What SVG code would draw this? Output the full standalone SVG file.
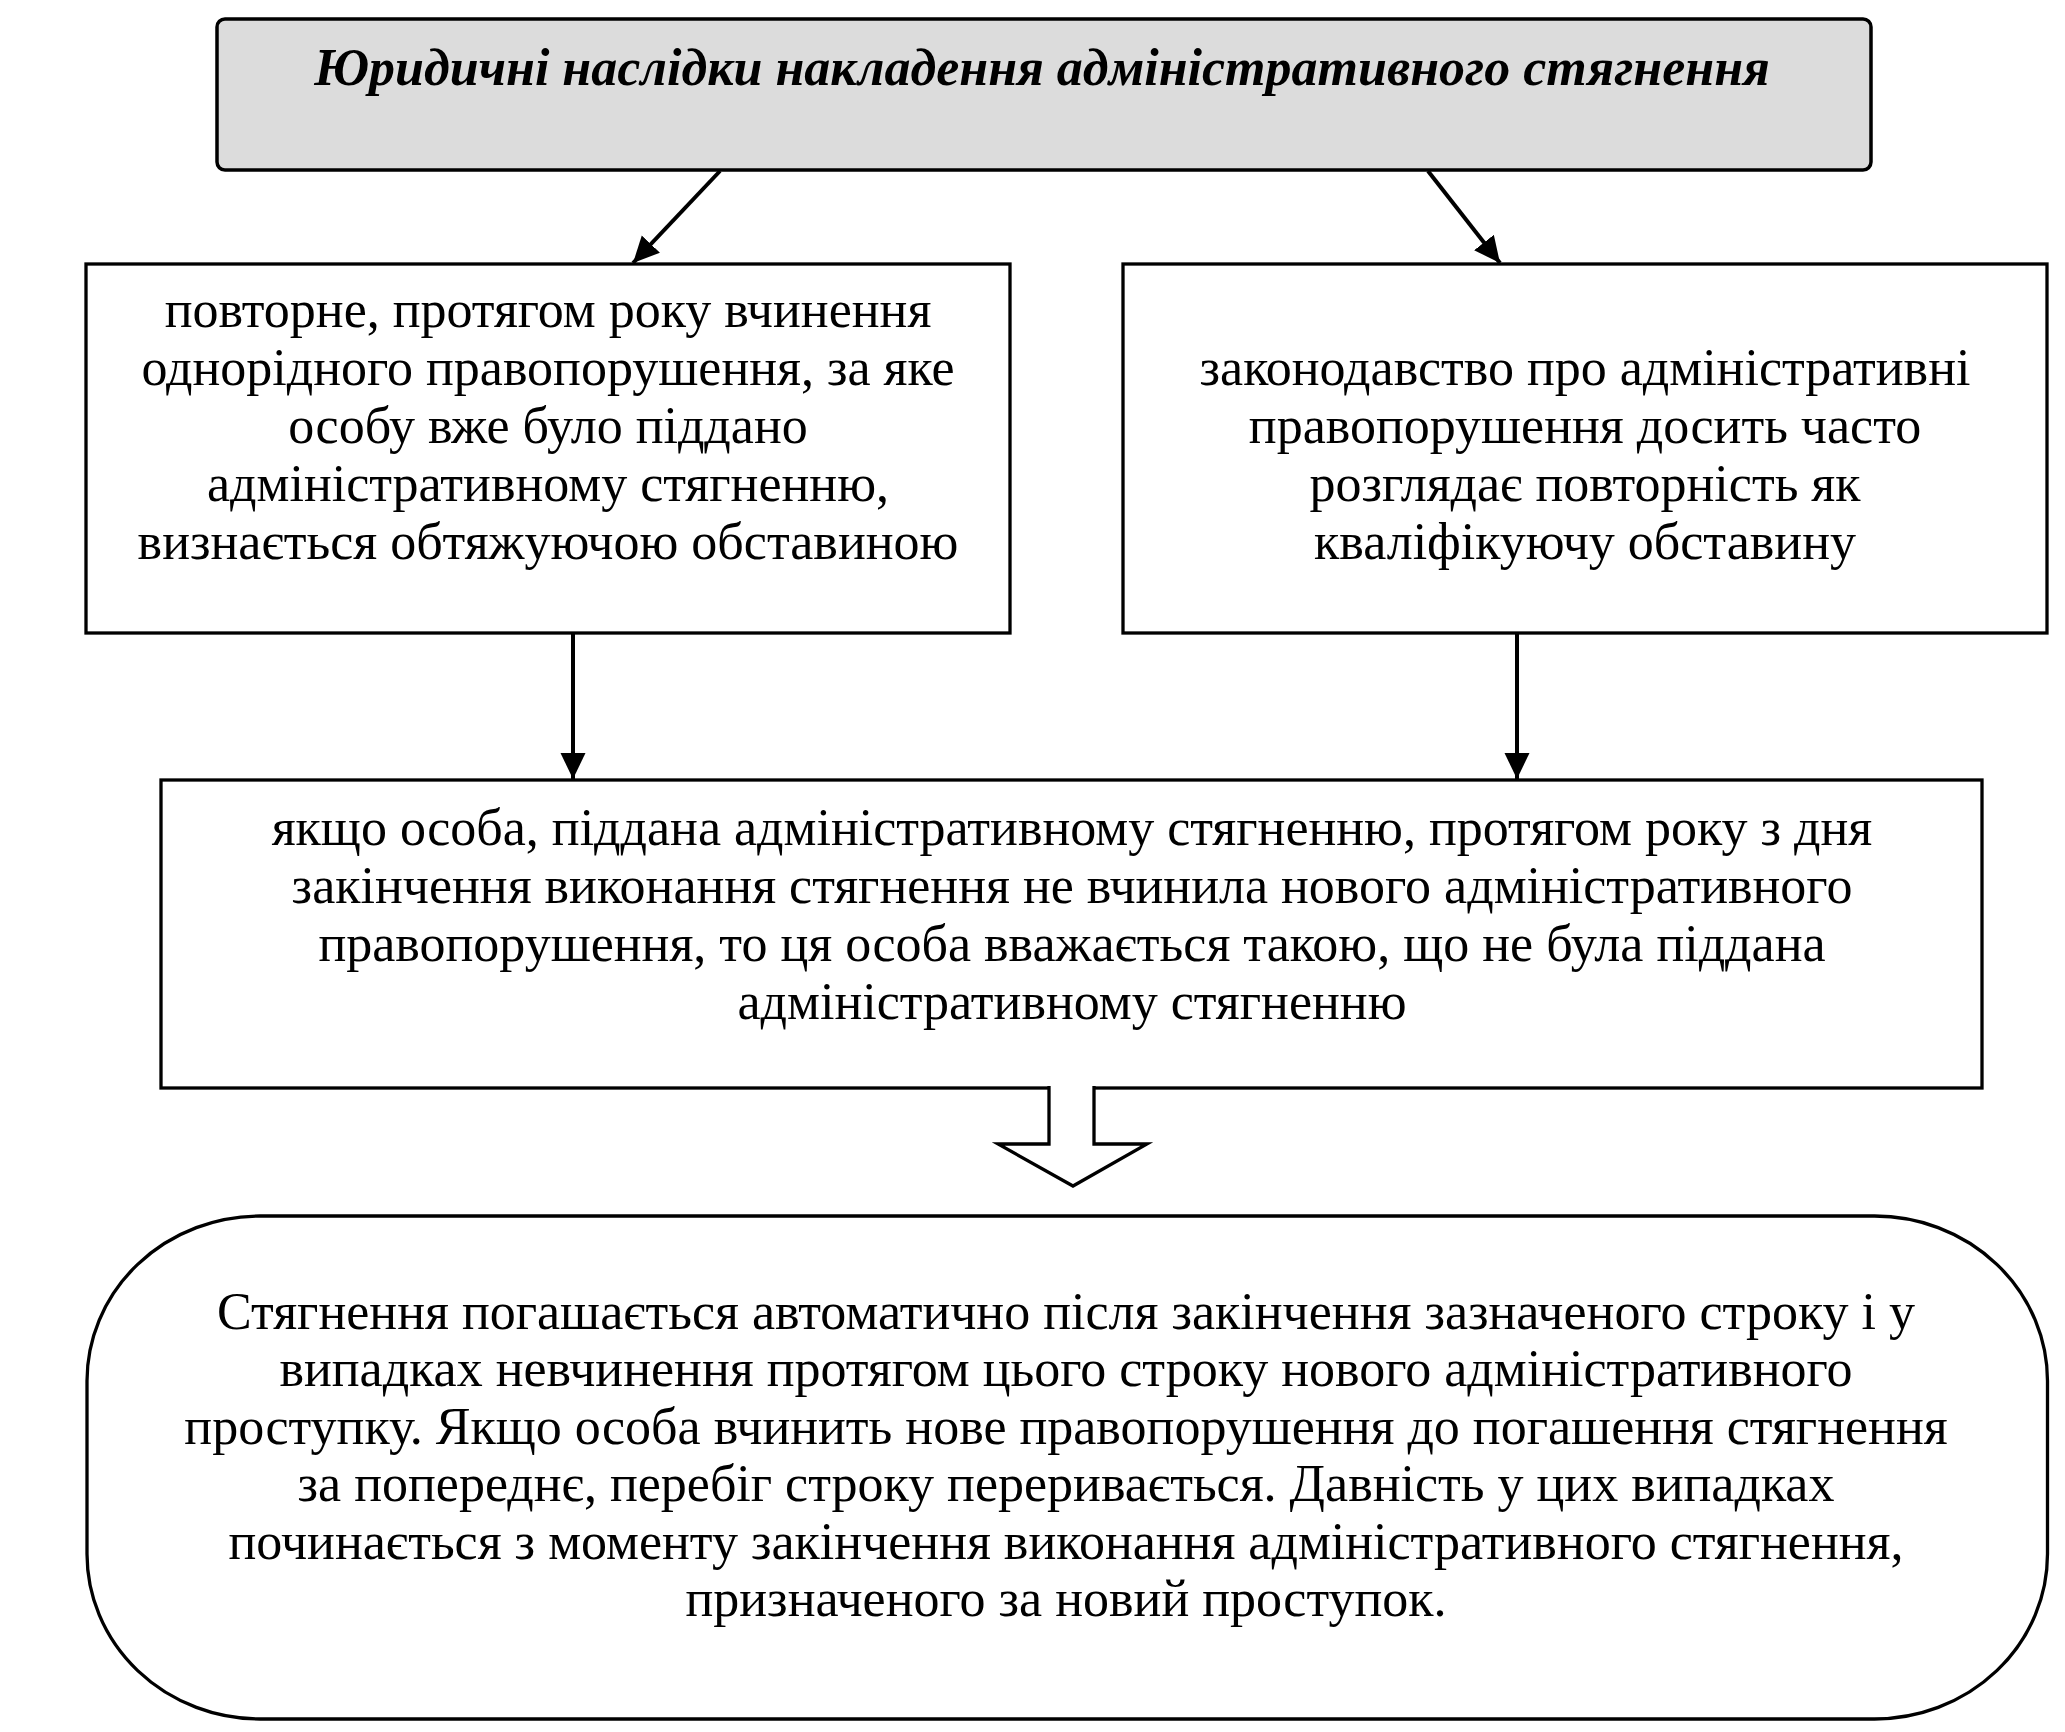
<svg xmlns="http://www.w3.org/2000/svg" width="2065" height="1732" viewBox="0 0 2065 1732">
<style>
.box{fill:#ffffff;stroke:#000000;stroke-width:3.3}
.title{fill:#dcdcdc;stroke:#000000;stroke-width:3.5}
.t{font-family:"Liberation Serif","Times New Roman",serif;font-size:52px;fill:#000000;text-anchor:middle}
.tt{font-family:"Liberation Serif","Times New Roman",serif;font-size:52px;font-weight:bold;font-style:italic;fill:#000000;text-anchor:middle}
.con{stroke:#000000;stroke-width:4;fill:none}
</style>
<defs>
<marker id="ah" markerUnits="userSpaceOnUse" markerWidth="28" markerHeight="26" refX="26" refY="12.5" orient="auto">
<path d="M0,0 L26,12.5 L0,25 z" fill="#000000"/>
</marker>
</defs>
<rect width="2065" height="1732" fill="#ffffff"/>
<g id="node-title">
<rect class="title" x="217" y="19" width="1654" height="151" rx="8" ry="8"/>
<text class="tt" x="1042" y="85">Юридичні наслідки накладення адміністративного стягнення</text>
</g>
<g id="node-left">
<rect class="box" x="86" y="264" width="924" height="369"/>
<text class="t" x="548" y="327">повторне, протягом року вчинення</text>
<text class="t" x="548" y="385">однорідного правопорушення, за яке</text>
<text class="t" x="548" y="443">особу вже було піддано</text>
<text class="t" x="548" y="501">адміністративному стягненню,</text>
<text class="t" x="548" y="559">визнається обтяжуючою обставиною</text>
</g>
<g id="node-right">
<rect class="box" x="1123" y="264" width="924" height="369"/>
<text class="t" x="1585" y="385">законодавство про адміністративні</text>
<text class="t" x="1585" y="443">правопорушення досить часто</text>
<text class="t" x="1585" y="501">розглядає повторність як</text>
<text class="t" x="1585" y="559">кваліфікуючу обставину</text>
</g>
<g id="node-middle">
<rect class="box" x="161" y="780" width="1821" height="308"/>
<text class="t" x="1072" y="845">якщо особа, піддана адміністративному стягненню, протягом року з дня</text>
<text class="t" x="1072" y="903">закінчення виконання стягнення не вчинила нового адміністративного</text>
<text class="t" x="1072" y="961">правопорушення, то ця особа вважається такою, що не була піддана</text>
<text class="t" x="1072" y="1019">адміністративному стягненню</text>
</g>
<g id="node-bottom">
<rect class="box" x="87" y="1216" width="1960.5" height="503" rx="173" ry="165"/>
<text class="t" x="1066" y="1329">Стягнення погашається автоматично після закінчення зазначеного строку і у</text>
<text class="t" x="1066" y="1386">випадках невчинення протягом цього строку нового адміністративного</text>
<text class="t" x="1066" y="1444">проступку. Якщо особа вчинить нове правопорушення до погашення стягнення</text>
<text class="t" x="1066" y="1501">за попереднє, перебіг строку переривається. Давність у цих випадках</text>
<text class="t" x="1066" y="1559">починається з моменту закінчення виконання адміністративного стягнення,</text>
<text class="t" x="1066" y="1616">призначеного за новий проступок.</text>
</g>
<g id="connectors">
<line class="con" x1="720" y1="171" x2="633" y2="263" marker-end="url(#ah)"/>
<line class="con" x1="1428" y1="171" x2="1500" y2="263" marker-end="url(#ah)"/>
<line class="con" x1="573" y1="634" x2="573" y2="779" marker-end="url(#ah)"/>
<line class="con" x1="1517" y1="634" x2="1517" y2="779" marker-end="url(#ah)"/>
<path d="M1049,1086 V1144 H998 L1073,1186 L1147,1144 H1094 V1086" fill="#ffffff" stroke="#000000" stroke-width="3.3" stroke-linejoin="miter"/>
</g>
</svg>
